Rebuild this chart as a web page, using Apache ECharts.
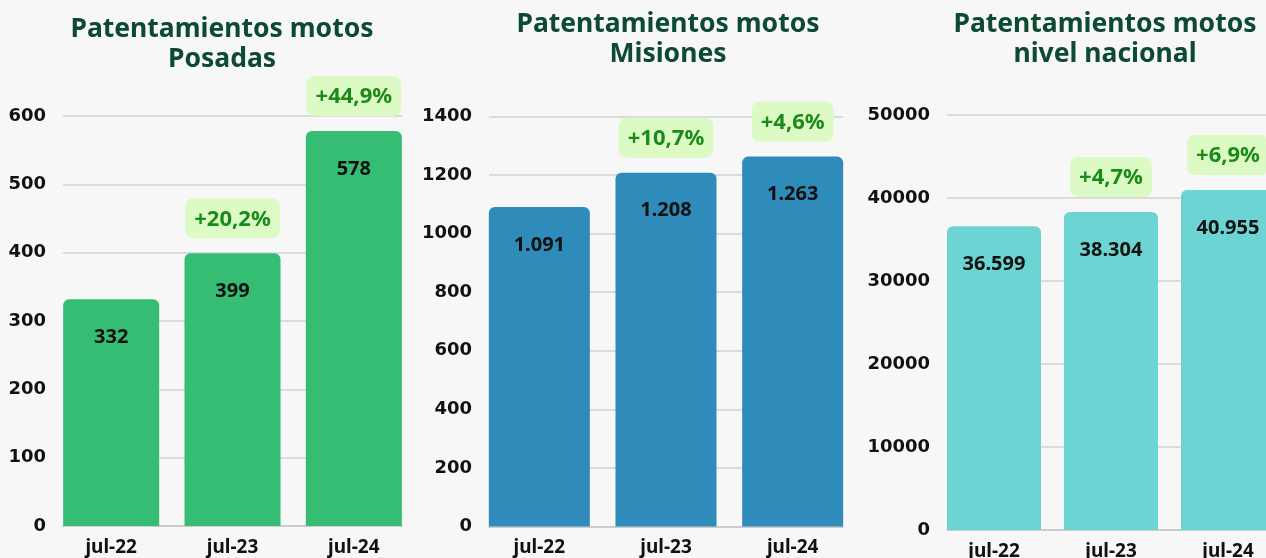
<!DOCTYPE html>
<html lang="es">
<head>
  <meta charset="UTF-8" />
  <title>Patentamientos motos</title>
  <script src="https://cdn.jsdelivr.net/npm/echarts@6/dist/echarts.min.js"></script>
  <style>
    html, body { margin: 0; padding: 0; background: #f7f7f7; overflow: hidden; }
  </style>
</head>
<body>
  <!-- el lienzo es algo mas ancho que la ventana: la ultima barra queda cortada como en el original -->
  <div id="main" style="width: 1300px; height: 558px;"></div>
  <script type="text/javascript">
    // datos
    var categorias = ['jul-22', 'jul-23', 'jul-24']
    var posadas = [332, 399, 578]
    var posadasVar = [null, '+20,2%', '+44,9%']
    var misiones = [1091, 1208, 1263]
    var misionesVar = [null, '+10,7%', '+4,6%']
    var nacional = [36599, 38304, 40955]
    var nacionalVar = [null, '+4,7%', '+6,9%']

    var titulos = ['Patentamientos motos\nPosadas', 'Patentamientos motos\nMisiones', 'Patentamientos motos\nnivel nacional']

    // formato 1234 -> 1.234
    function miles(v) {
      return String(v).replace(/\B(?=(\d{3})+(?!\d))/g, '.')
    }

    var myChart = echarts.init(document.getElementById('main'))

    var option = {
      backgroundColor: '#f7f7f7',
      animation: false,
      title: [],
      grid: [],
      xAxis: [],
      yAxis: [],
      series: []
    }

    // cada panel: grilla de ejes (lineas) + grilla de barras (un poco mas ancha)
    function panel(idx, cfg) {
      option.title.push({
        text: titulos[idx],
        left: cfg.titleX,
        top: cfg.titleTop,
        textAlign: 'center',
        textStyle: { fontFamily: 'Noto Sans', fontSize: 26.5, fontWeight: 'bold', color: '#0c4a32', lineHeight: 30 }
      })
      var g = option.grid.length
      // outerBoundsMode none: que las etiquetas no achiquen la grilla
      option.grid.push({ left: cfg.left, width: cfg.width, top: cfg.top, bottom: cfg.bottom, outerBoundsMode: 'none' })
      option.grid.push({ left: cfg.barLeft, width: cfg.barWidthGrid, top: cfg.top, bottom: cfg.bottom, outerBoundsMode: 'none' })

      // ejes de la grilla de lineas
      option.xAxis.push({
        type: 'category', gridIndex: g, data: categorias,
        axisLine: { show: true, lineStyle: { color: '#c8c8c8', width: 1.5 } },
        axisTick: { show: false }, axisLabel: { show: false }
      })
      option.yAxis.push({
        type: 'value', gridIndex: g, min: 0, max: cfg.max, interval: cfg.interval,
        axisLabel: {
          fontFamily: 'DejaVu Sans', fontSize: 18, fontWeight: 'bold', color: '#111', margin: 17,
          formatter: function (v) { return String(v) }
        },
        splitLine: { lineStyle: { color: '#d2d2d2', width: 1.5 } }
      })
      // ejes de la grilla de barras
      option.xAxis.push({
        type: 'category', gridIndex: g + 1, data: categorias,
        axisLine: { show: false }, axisTick: { show: false },
        axisLabel: { fontFamily: 'Noto Sans', fontSize: 19, fontWeight: 'bold', color: '#111', margin: cfg.xMargin }
      })
      option.yAxis.push({
        type: 'value', gridIndex: g + 1, min: 0, max: cfg.max, show: false
      })

      option.series.push({
        type: 'bar', xAxisIndex: g + 1, yAxisIndex: g + 1,
        data: cfg.data, barWidth: cfg.bar, barGap: '-100%',
        itemStyle: { color: cfg.color, borderRadius: [6, 6, 0, 0] },
        label: {
          show: true, position: 'insideTop', distance: 28,
          fontFamily: 'Noto Sans', fontSize: 20, fontWeight: 'bold', color: '#111',
          formatter: function (p) { return miles(p.value) }
        },
        emphasis: { disabled: true }
      })
      // etiquetas de variacion interanual
      option.series.push({
        type: 'bar', xAxisIndex: g + 1, yAxisIndex: g + 1,
        data: cfg.data.map(function (v, i) {
          return cfg.vars[i] ? v : { value: v, label: { show: false } }
        }),
        barWidth: cfg.bar, barGap: '-100%', silent: true,
        itemStyle: { color: 'rgba(0,0,0,0)' },
        label: {
          show: true, position: 'top', distance: 15,
          fontFamily: 'Noto Sans', fontSize: 22, fontWeight: 'bold', color: '#1a8a1a',
          backgroundColor: '#dcfac4', borderRadius: 8, padding: [10, 9, 8, 9],
          formatter: function (p) { return cfg.vars[p.dataIndex] || '' }
        },
        emphasis: { disabled: true }
      })
    }

    panel(0, {
      data: posadas, vars: posadasVar, color: '#36bd74', max: 600, interval: 100,
      titleX: 217, titleTop: 9,
      left: 63, width: 339, top: 116, bottom: 32,
      barLeft: 50.5, barWidthGrid: 364, bar: 96, xMargin: 12
    })
    panel(1, {
      data: misiones, vars: misionesVar, color: '#2e8bba', max: 1400, interval: 200,
      titleX: 663, titleTop: 4,
      left: 489, width: 354, top: 116.5, bottom: 31.5,
      barLeft: 476, barWidthGrid: 380, bar: 101, xMargin: 12
    })
    panel(2, {
      data: nacional, vars: nacionalVar, color: '#6dd4d4', max: 50000, interval: 10000,
      titleX: 1100, titleTop: 4,
      left: 947, width: 328, top: 115, bottom: 28,
      barLeft: 935.5, barWidthGrid: 351, bar: 94, xMargin: 12
    })

    myChart.setOption(option)
  </script>
</body>
</html>
